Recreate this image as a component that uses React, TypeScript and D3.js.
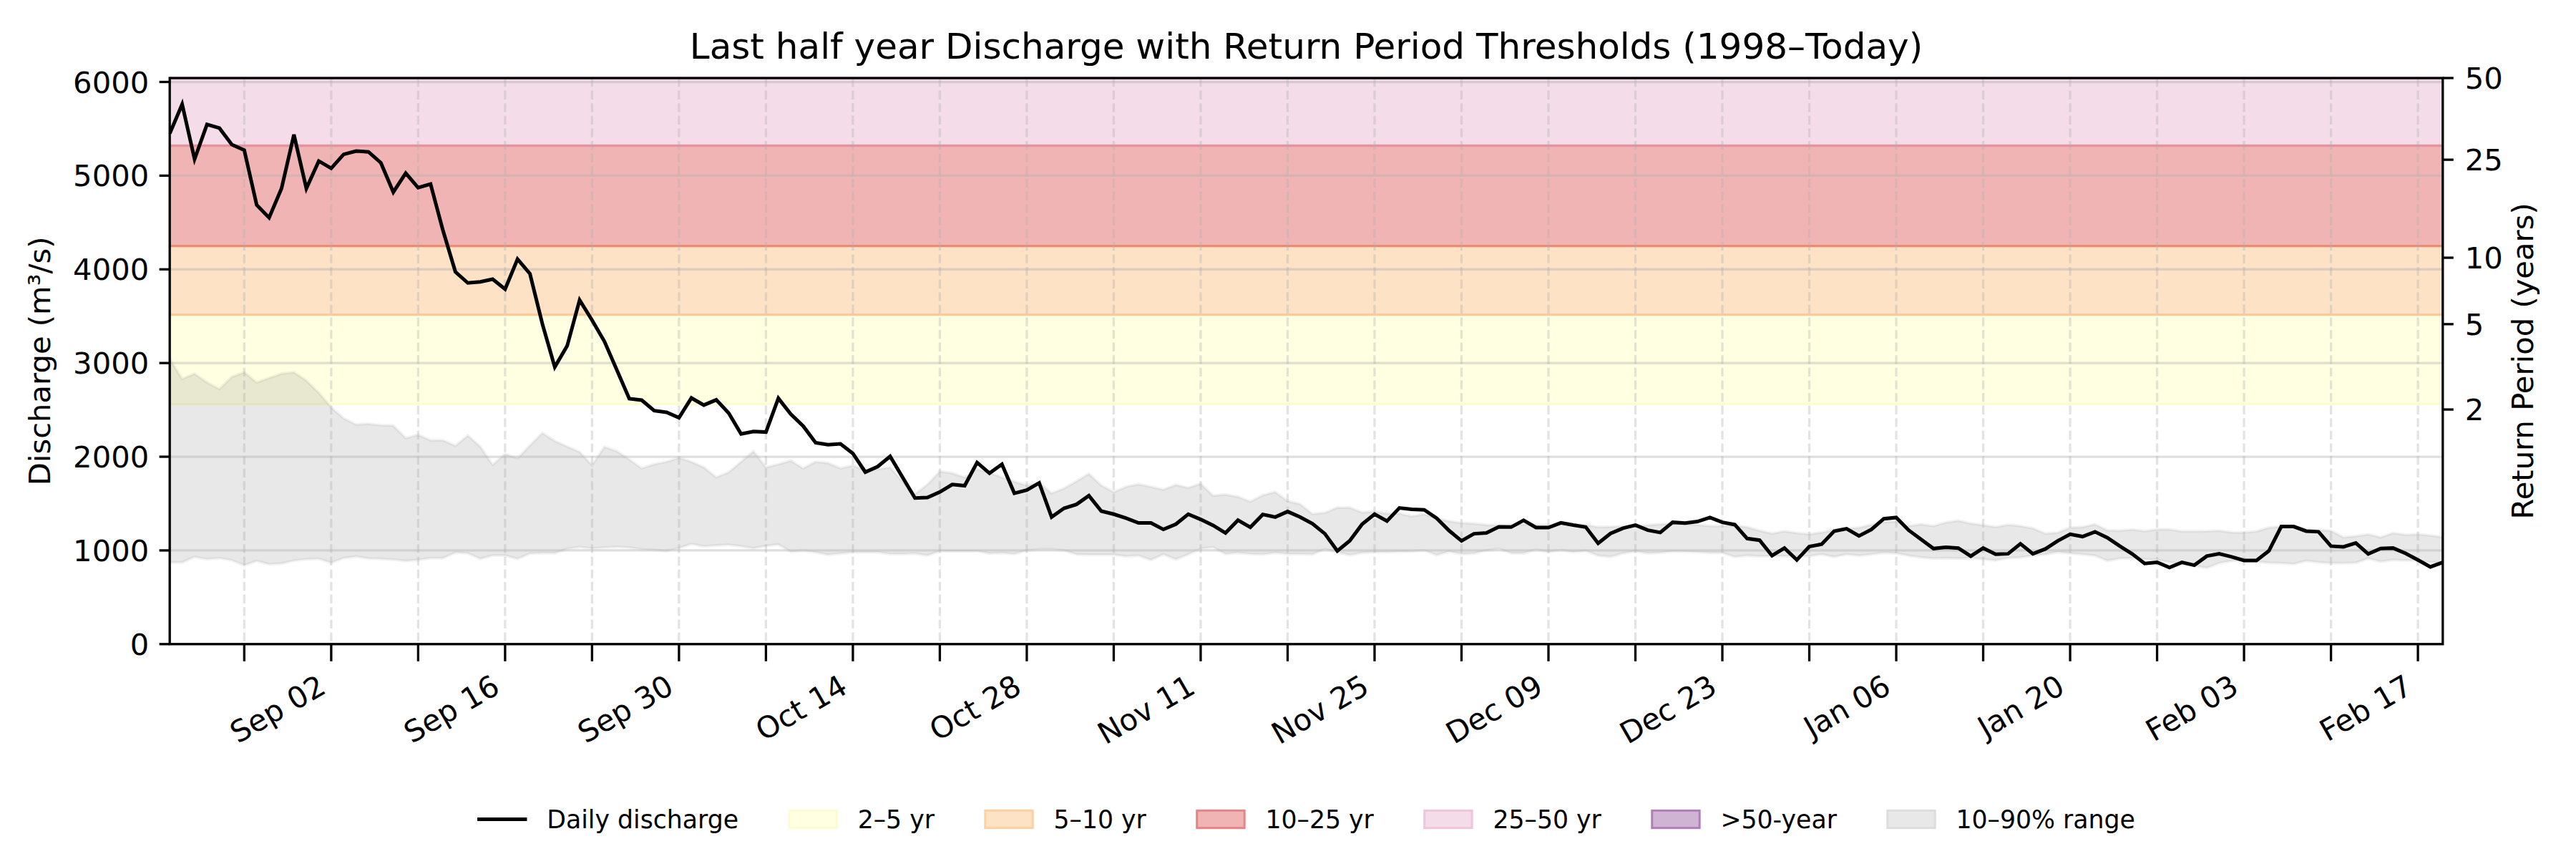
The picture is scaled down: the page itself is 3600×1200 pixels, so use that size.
import React from 'react';
import * as d3 from 'd3';

// daily series, first value = 2024-08-20
const START = Date.UTC(2024, 7, 20);

const discharge = [
  5449, 5762, 5176, 5547, 5508, 5332, 5273, 4688, 4551, 4863,
  5437, 4863, 5156, 5078, 5227, 5262, 5254, 5137, 4824, 5027,
  4871, 4910, 4414, 3973, 3855, 3867, 3895, 3789, 4109, 3953,
  3418, 2957, 3184, 3672, 3458, 3230, 2925, 2619, 2604, 2492,
  2474, 2416, 2627, 2551, 2607, 2467, 2243, 2269, 2263, 2624,
  2454, 2327, 2149, 2129, 2137, 2035, 1836, 1895, 2004, 1780,
  1559, 1564, 1623, 1704, 1691, 1938, 1824, 1920, 1610, 1644,
  1720, 1356, 1450, 1491, 1585, 1420, 1387, 1344, 1293, 1293,
  1224, 1280, 1387, 1331, 1267, 1186, 1323, 1247, 1384, 1356,
  1415, 1356, 1285, 1178, 995, 1102, 1280, 1387, 1313, 1453,
  1438, 1433, 1344, 1211, 1102, 1178, 1186, 1252, 1249, 1321,
  1244, 1244, 1295, 1270, 1249, 1076, 1181, 1237, 1270, 1216,
  1191, 1300, 1292, 1308, 1351, 1300, 1275, 1127, 1109, 944,
  1025, 898, 1041, 1066, 1206, 1232, 1155, 1224, 1338, 1351,
  1216, 1117, 1020, 1033, 1025, 939, 1025, 960, 964, 1071,
  964, 1015, 1102, 1173, 1148, 1199, 1135, 1046, 962, 860,
  873, 817, 873, 842, 939, 964, 931, 893, 893, 995,
  1255, 1255, 1206, 1199, 1046, 1038, 1079, 962, 1020, 1025,
  969, 898, 824, 873,
];

const p90 = [
  3047, 2832, 2887, 2793, 2723, 2852, 2902, 2793, 2840, 2887,
  2902, 2813, 2684, 2527, 2410, 2344, 2352, 2336, 2332, 2199,
  2234, 2176, 2176, 2117, 2227, 2109, 1914, 2031, 1984, 2121,
  2254, 2168, 2109, 2051, 1910, 2106, 2060, 1971, 1877, 1920,
  1946, 1989, 1946, 1887, 1780, 1836, 1946, 2060, 1887, 1920,
  1958, 1877, 1946, 1933, 1877, 1907, 1857, 1869, 1887, 1735,
  1602, 1704, 1844, 1824, 1780, 1869, 1831, 1781, 1735, 1695,
  1725, 1611, 1662, 1738, 1819, 1695, 1624, 1680, 1707, 1680,
  1649, 1700, 1669, 1713, 1585, 1598, 1573, 1522, 1590, 1624,
  1527, 1496, 1389, 1402, 1458, 1458, 1407, 1415, 1394, 1394,
  1364, 1387, 1344, 1313, 1293, 1288, 1272, 1271, 1275, 1280,
  1275, 1270, 1282, 1275, 1275, 1249, 1254, 1257, 1262, 1270,
  1280, 1288, 1282, 1275, 1262, 1262, 1267, 1249, 1211, 1181,
  1206, 1186, 1173, 1193, 1219, 1232, 1244, 1275, 1305, 1308,
  1262, 1280, 1262, 1300, 1318, 1288, 1270, 1249, 1275, 1262,
  1237, 1181, 1191, 1244, 1249, 1280, 1216, 1211, 1224, 1206,
  1224, 1224, 1204, 1204, 1206, 1211, 1193, 1193, 1204, 1244,
  1255, 1255, 1229, 1219, 1211, 1140, 1153, 1173, 1140, 1186,
  1168, 1173, 1160, 1143,
];

const p10 = [
  871, 871, 930, 906, 918, 895, 840, 887, 852, 860,
  891, 906, 910, 867, 918, 934, 914, 910, 902, 887,
  898, 918, 918, 977, 969, 910, 945, 945, 910, 965,
  973, 969, 1016, 1035, 1020, 1030, 1038, 1030, 1010, 1005,
  992, 1025, 1068, 1043, 1053, 1061, 1043, 1023, 1048, 1063,
  985, 997, 980, 954, 967, 980, 980, 980, 962, 962,
  967, 946, 992, 992, 992, 992, 967, 973, 962, 1000,
  1013, 1013, 1000, 957, 954, 954, 954, 936, 944, 898,
  957, 903, 957, 1018, 1033, 962, 975, 962, 957, 975,
  962, 962, 957, 1013, 982, 949, 975, 982, 982, 987,
  987, 1000, 949, 987, 962, 967, 1000, 1019, 969, 969,
  1008, 982, 1003, 982, 995, 944, 931, 969, 990, 969,
  975, 990, 987, 982, 975, 975, 931, 944, 936, 939,
  939, 939, 939, 957, 931, 957, 944, 957, 975, 969,
  944, 924, 913, 918, 913, 918, 906, 893, 918, 924,
  944, 957, 982, 969, 957, 944, 888, 913, 918, 906,
  898, 873, 855, 837, 812, 863, 888, 893, 880, 868,
  863, 855, 888, 873, 863, 863, 868, 913, 880, 898,
  893, 893, 873, 868,
];

// return-period bands (discharge thresholds)
const bandLabels = ['2–5 yr', '5–10 yr', '10–25 yr', '25–50 yr', '>50-year'];
const bandLow = [2563, 3516, 4250, 5320, 6042];
const bandHigh = [3516, 4250, 5320, 6042, 9000];
const bandFill = ['#ffffe2', '#fde2c6', '#f1b4b4', '#f5dce9', '#d0b4d3'];
const bandEdge = ['#fffbd0', '#fdc996', '#ec8a72', '#e5939f', '#b07fbb'];
const legendEdge = ['#fffbd0', '#fdd0a2', '#e58585', '#f0c4da', '#b07fbb'];

const yTicks = [0, 1000, 2000, 3000, 4000, 5000, 6000];
const rpLabels = ['2', '5', '10', '25', '50'];
const rpDischarge = [2504, 3415, 4124, 5170, 6042];

const labelledTicks = [
  '2024-09-02', '2024-09-16', '2024-09-30', '2024-10-14', '2024-10-28', '2024-11-11',
  '2024-11-25', '2024-12-09', '2024-12-23', '2025-01-06', '2025-01-20', '2025-02-03', '2025-02-17',
];

const W = 3600;
const H = 1200;
const left = 237.2;
const right = 3413.8;
const top = 109;
const bottom = 899.8;
const FONT = '"DejaVu Sans", sans-serif';

const dates = discharge.map((_, i) => new Date(START + i * 864e5));

function textWidth(s: string, px: number) {
  const ctx = document.createElement('canvas').getContext('2d');
  if (!ctx) return s.length * px * 0.55;
  ctx.font = `${px}px "DejaVu Sans"`;
  return ctx.measureText(s).width;
}

const App: React.FC = () => {
  const x = d3.scaleUtc().domain([dates[0], dates[dates.length - 1]]).range([left, right]);
  const y = d3.scaleLinear().domain([0, 6042]).range([bottom, top]);

  const weekTicks = d3.utcMonday.range(dates[0], new Date(+dates[dates.length - 1] + 1));
  const fmt = d3.utcFormat('%b %d');
  const labelSet = new Set(labelledTicks);
  const iso = d3.utcFormat('%Y-%m-%d');

  const line = d3
    .line<number>()
    .x((_, i) => x(dates[i]))
    .y(d => y(d));
  const area = d3
    .area<number>()
    .x((_, i) => x(dates[i]))
    .y0((_, i) => y(p10[i]))
    .y1(d => y(d));

  // legend layout like matplotlib: handle 2em, pad 0.8em, column spacing 2em
  const lf = 34.7;
  const legendItems = [
    { label: 'Daily discharge', kind: 'line', fill: '', edge: '' },
    ...bandLabels.map((l, i) => ({ label: l, kind: 'patch', fill: bandFill[i], edge: legendEdge[i] })),
    { label: '10–90% range', kind: 'patch', fill: '#e8e8e8', edge: '#dddddd' },
  ];
  const widths = legendItems.map(it => 2 * lf + 0.8 * lf + textWidth(it.label, lf));
  const total = d3.sum(widths) + 2 * lf * (widths.length - 1);
  let cursor = (left + right) / 2 - total / 2;
  const legendPos = widths.map(w => {
    const p = cursor;
    cursor += w + 2 * lf;
    return p;
  });
  const legendY = 1144.5;

  return (
    <div style={{ position: 'absolute', left: 0, top: 0 }}>
      <svg width={W} height={H} style={{ display: 'block', background: '#fff' }} fontFamily={FONT}>
        <defs>
          <clipPath id="plot">
            <rect x={left} y={top} width={right - left} height={bottom - top} />
          </clipPath>
        </defs>

        <g clipPath="url(#plot)">
          {bandLabels.map((l, i) => (
            <rect
              key={l}
              x={left}
              width={right - left}
              y={y(Math.min(bandHigh[i], 6042))}
              height={Math.max(0, y(bandLow[i]) - y(Math.min(bandHigh[i], 6042)))}
              fill={bandFill[i]}
            />
          ))}
          {bandLabels.map((l, i) => (
            <line key={'e' + l} x1={left} x2={right} y1={y(bandLow[i])} y2={y(bandLow[i])} stroke={bandEdge[i]} strokeWidth={3.3} />
          ))}

          <path d={area(p90) ?? ''} fill="#808080" fillOpacity={0.18} stroke="#808080" strokeOpacity={0.1} strokeWidth={4} />

          {yTicks.map(t => (
            <line key={'gy' + t} x1={left} x2={right} y1={y(t)} y2={y(t)} stroke="#b0b0b0" strokeOpacity={0.4} strokeWidth={3.3} />
          ))}
          {weekTicks.map(t => (
            <line
              key={'gx' + +t}
              x1={x(t)}
              x2={x(t)}
              y1={top}
              y2={bottom}
              stroke="#b0b0b0"
              strokeOpacity={0.35}
              strokeWidth={3.3}
              strokeDasharray="12.3,5.3"
            />
          ))}

          <path d={line(discharge) ?? ''} fill="none" stroke="#000" strokeWidth={5} strokeLinejoin="miter" />
        </g>

        <rect x={left} y={top} width={right - left} height={bottom - top} fill="none" stroke="#000" strokeWidth={3.3} />

        {/* left axis */}
        {yTicks.map(t => (
          <g key={'ly' + t} transform={`translate(${left},${y(t)})`}>
            <line x1={-14.6} x2={0} stroke="#000" strokeWidth={3.3} />
            <text x={-29} dy="0.36em" textAnchor="end" fontSize={41.7}>
              {t}
            </text>
          </g>
        ))}

        {/* right axis: return period */}
        {rpLabels.map((l, i) => (
          <g key={'ry' + l} transform={`translate(${right},${y(rpDischarge[i])})`}>
            <line x1={0} x2={15} stroke="#000" strokeWidth={3.3} />
            <text x={31} dy="0.36em" textAnchor="start" fontSize={41.7}>
              {l}
            </text>
          </g>
        ))}

        {/* bottom axis */}
        {weekTicks.map(t => (
          <g key={'bx' + +t}>
            <line x1={x(t)} x2={x(t)} y1={bottom} y2={bottom + 24} stroke="#000" strokeWidth={3.3} />
            {labelSet.has(iso(t)) && (
              <text transform={`translate(${x(t) - 5},${bottom + 67}) rotate(-30)`} textAnchor="end" fontSize={41.7}>
                {fmt(t)}
              </text>
            )}
          </g>
        ))}

        <text x={(left + right) / 2} y={82} textAnchor="middle" fontSize={50}>
          Last half year Discharge with Return Period Thresholds (1998–Today)
        </text>
        <text transform={`translate(70,${(top + bottom) / 2}) rotate(-90)`} textAnchor="middle" fontSize={41.7}>
          Discharge (m³/s)
        </text>
        <text transform={`translate(3540,${(top + bottom) / 2}) rotate(-90)`} textAnchor="middle" fontSize={41.7}>
          Return Period (years)
        </text>

        {/* legend */}
        {legendItems.map((it, i) => (
          <g key={'lg' + it.label} transform={`translate(${legendPos[i]},${legendY})`}>
            {it.kind === 'line' ? (
              <line x1={0} x2={2 * lf} stroke="#000" strokeWidth={5} />
            ) : (
              <rect x={1.5} y={-0.35 * lf} width={2 * lf - 3} height={0.7 * lf} fill={it.fill} stroke={it.edge} strokeWidth={3} />
            )}
            <text x={2.8 * lf} dy="0.36em" fontSize={lf}>
              {it.label}
            </text>
          </g>
        ))}
      </svg>
    </div>
  );
};

export default App;
